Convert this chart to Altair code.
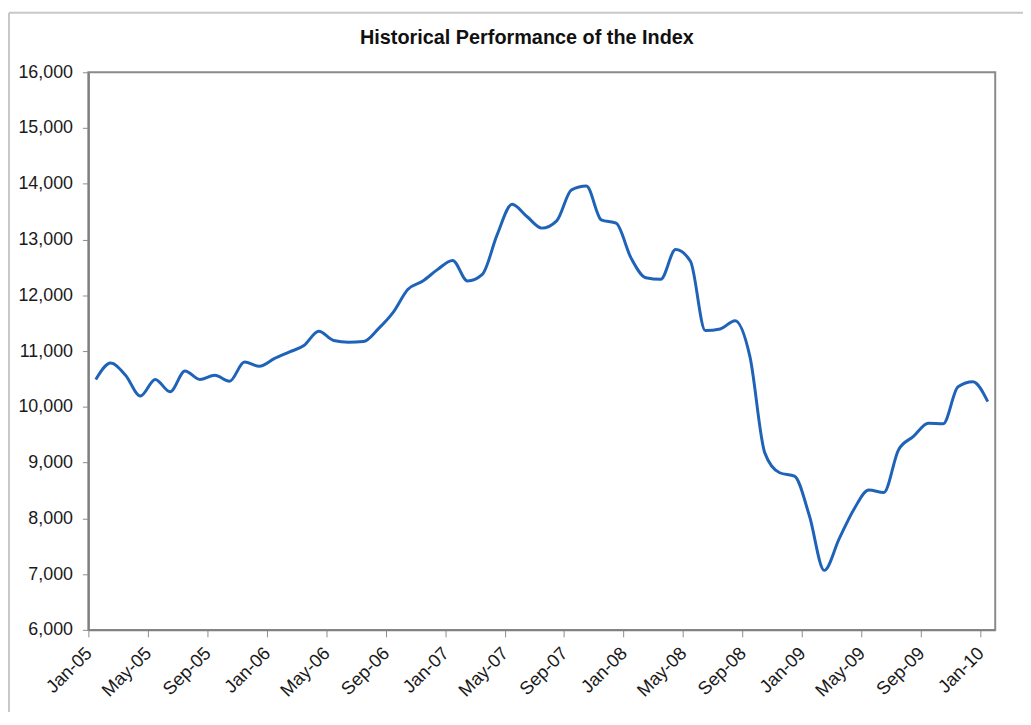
import altair as alt
import pandas as pd

month_names = ["Jan", "Feb", "Mar", "Apr", "May", "Jun",
               "Jul", "Aug", "Sep", "Oct", "Nov", "Dec"]
years = ["05", "06", "07", "08", "09", "10"]
months = [f"{m}-{y}" for y in years for m in month_names][:61]

index_values = [
    10490, 10786, 10567, 10193, 10490, 10270, 10643, 10490, 10567, 10460,
    10803, 10727, 10864, 10981, 11100, 11355, 11190, 11160, 11170, 11397,
    11693, 12109, 12257, 12465, 12625, 12257, 12376, 13088, 13632, 13413,
    13205, 13336, 13890, 13960, 13354, 13294, 12671, 12315, 12287, 12820,
    12612, 11367, 11397, 11545, 10900, 9174, 8818, 8758, 8046, 7067,
    7631, 8165, 8509, 8462, 9232, 9469, 9707, 9695, 10359, 10448, 10092,
]
tick_months = months[::4]
y_ticks = list(range(6000, 16001, 1000))
title_text = "Historical Performance of the Index"

df = pd.DataFrame({"month": months, "value": index_values})
one = pd.DataFrame({"t": [title_text]})

FONT = "Liberation Sans"
W, H = 914, 562
BAND = W / len(months)

x_enc = alt.X(
    "month:O", sort=months,
    scale=alt.Scale(type="band", paddingInner=0, paddingOuter=0),
    axis=alt.Axis(
        title=None, values=tick_months, tickOffset=-BAND / 2,
        labelAngle=-45, labelAlign="right", labelBaseline="middle",
        labelOffset=0, labelPadding=13, tickSize=7, tickColor="#8c8c8c",
        domainColor="#808080", domainWidth=2, labelFont=FONT,
        labelFontSize=18.5, labelColor="#1a1a1a", grid=False,
    ),
)
y_enc = alt.Y(
    "value:Q",
    scale=alt.Scale(domain=[6000, 16000], nice=False, zero=False),
    axis=alt.Axis(
        title=None, values=y_ticks, format=",d", tickSize=6,
        tickColor="#8c8c8c", domainColor="#808080", domainWidth=2,
        labelPadding=10, labelFont=FONT, labelFontSize=18,
        labelColor="#1a1a1a", grid=False,
    ),
)

line = alt.Chart(df).mark_line(
    color="#1f63b8", strokeWidth=3, interpolate="monotone"
).encode(x=x_enc, y=y_enc)

title = alt.Chart(one).mark_text(
    font=FONT, fontSize=20, fontWeight="bold", color="#111111",
    align="center", baseline="alphabetic"
).encode(text="t:N", x=alt.value(442), y=alt.value(-28))

border_top = alt.Chart(one).mark_rule(color="#c8c8c8", strokeWidth=2).encode(
    x=alt.value(-80), x2=alt.value(1040), y=alt.value(-60)
)
border_left = alt.Chart(one).mark_rule(color="#c8c8c8", strokeWidth=2).encode(
    x=alt.value(-80), y=alt.value(-60), y2=alt.value(760)
)

chart = alt.layer(border_top, border_left, line, title).properties(
    width=W, height=H,
    autosize=alt.AutoSizeParams(type="none"),
    padding={"left": 81, "top": 62, "right": 28, "bottom": 80},
    view=alt.ViewBackground(stroke="#8a8a8a", strokeWidth=2),
).configure(background="white")

chart.save("out.html", embed_options={"renderer": "svg", "actions": False})
